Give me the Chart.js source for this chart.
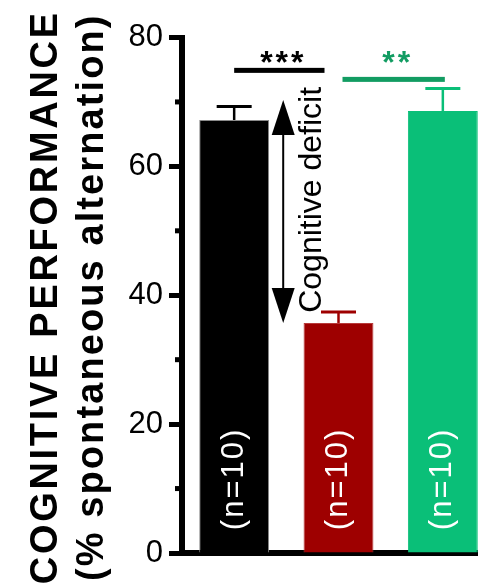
<!DOCTYPE html>
<html>
<head>
<meta charset="utf-8">
<script src="https://cdn.jsdelivr.net/npm/chart.js@4.4.1/dist/chart.umd.min.js"></script>
<style>
    html, body { margin: 0; padding: 0; background: #fff; overflow: hidden; }
    #wrap { width: 495px; height: 587px; }
</style>
</head>
<body>
<div id="wrap"><canvas id="chart" width="495" height="587"></canvas></div>
<script>
// values
const groups = ['Control', 'Deficit', 'Treated'];
const means = [67.2, 35.7, 68.6];
const sems = [2.1, 1.7, 3.5];
const nLabels = ['(n=10)', '(n=10)', '(n=10)'];
const yMajorTicks = [0, 20, 40, 60, 80];
const yMinorTicks = [10, 30, 50, 70];
const yTitle = ['COGNITIVE PERFORMANCE', '(% spontaneous alternation)'];
const stars = ['***', '**'];
const deficitLabel = 'Cognitive deficit';

const barColors = ['#000000', '#9e0000', '#0abf78'];
const edgeColors = ['#8a8a8a', '#b83a3a', '#0abf78'];
const starColors = ['#000000', '#129c62'];

const FONT = '"Liberation Sans", Arial, Helvetica, sans-serif';

// error bars, minor ticks, significance bars, arrow and labels
const deco = {
    id: 'deco',
    afterDatasetsDraw(chart) {
        const ctx = chart.ctx;
        const xs = chart.scales.x;
        const ys = chart.scales.y;
        const cx = (i) => xs.getPixelForValue(i);
        const py = (v) => ys.getPixelForValue(v);
        ctx.save();

        // error bars
        means.forEach((m, i) => {
            const x = cx(i), y0 = py(m), y1 = py(m + sems[i]);
            ctx.strokeStyle = barColors[i];
            ctx.lineWidth = 2.5;
            ctx.beginPath(); ctx.moveTo(x, y0); ctx.lineTo(x, y1); ctx.stroke();
            ctx.lineWidth = 3;
            ctx.beginPath(); ctx.moveTo(x - 17.5, y1); ctx.lineTo(x + 17.5, y1); ctx.stroke();
        });

        // minor ticks on the y axis
        ctx.fillStyle = '#000';
        yMinorTicks.forEach((v) => {
            ctx.fillRect(ys.right - 7, py(v) - 2.5, 6, 5);
        });

        // significance bars
        const sig = [
            { x1: cx(0), x2: cx(1) - 14, y: py(74.9) },
            { x1: cx(1) + 4, x2: cx(2) + 2, y: py(73.5) }
        ];
        sig.forEach((s, i) => {
            ctx.fillStyle = starColors[i];
            ctx.fillRect(s.x1, s.y - 2.5, s.x2 - s.x1, 5);
            ctx.font = `bold 32px ${FONT}`;
            ctx.letterSpacing = '3px';
            ctx.textAlign = 'center';
            ctx.textBaseline = 'alphabetic';
            const m = ctx.measureText(stars[i]);
            const yc = py(77);
            ctx.fillText(stars[i], (s.x1 + s.x2) / 2 + 4, yc + (m.actualBoundingBoxAscent - m.actualBoundingBoxDescent) / 2);
        });
        ctx.letterSpacing = '0px';

        // double arrow for the deficit
        const ax = cx(0) + 0.47 * (cx(1) - cx(0));
        const yTop = py(70.3), yBot = py(means[1]);
        const hl = 35, hw = 11.5;
        ctx.strokeStyle = '#000';
        ctx.fillStyle = '#000';
        ctx.lineWidth = 2;
        ctx.beginPath(); ctx.moveTo(ax, yTop + hl - 1); ctx.lineTo(ax, yBot - hl + 1); ctx.stroke();
        ctx.beginPath(); ctx.moveTo(ax, yTop); ctx.lineTo(ax + hw, yTop + hl); ctx.lineTo(ax - hw, yTop + hl); ctx.closePath(); ctx.fill();
        ctx.beginPath(); ctx.moveTo(ax, yBot); ctx.lineTo(ax + hw, yBot - hl); ctx.lineTo(ax - hw, yBot - hl); ctx.closePath(); ctx.fill();

        ctx.save();
        ctx.translate(ax + 38, py(54.8));
        ctx.rotate(-Math.PI / 2);
        ctx.font = `32px ${FONT}`;
        ctx.textAlign = 'center';
        ctx.textBaseline = 'alphabetic';
        ctx.fillText(deficitLabel, 0, 0);
        ctx.restore();

        // group sizes inside the bars
        nLabels.forEach((t, i) => {
            ctx.save();
            ctx.translate(cx(i), py(11.5));
            ctx.rotate(-Math.PI / 2);
            ctx.font = `31px ${FONT}`;
            ctx.letterSpacing = '2px';
            ctx.fillStyle = '#fff';
            ctx.textAlign = 'center';
            ctx.textBaseline = 'middle';
            ctx.fillText(t, 0, 0);
            ctx.restore();
        });

        ctx.restore();
    },
    afterDraw(chart) {
        // two-line rotated y title, slightly letter spaced like the original
        const ctx = chart.ctx;
        const area = chart.chartArea;
        const yc = (area.top + area.bottom) / 2 + 2;
        const base = [57, 103];
        const spacing = ['2.7px', '2.1px'];
        ctx.save();
        ctx.fillStyle = '#000';
        ctx.font = `bold 38px ${FONT}`;
        ctx.textAlign = 'center';
        ctx.textBaseline = 'alphabetic';
        yTitle.forEach((t, i) => {
            ctx.save();
            ctx.translate(base[i], yc);
            ctx.rotate(-Math.PI / 2);
            ctx.letterSpacing = spacing[i];
            ctx.fillText(t, 0, 0);
            ctx.restore();
        });
        ctx.restore();
    }
};

const chart = new Chart(document.getElementById('chart'), {
    type: 'bar',
    data: {
        labels: groups,
        datasets: [{
            data: means,
            backgroundColor: barColors,
            borderColor: edgeColors,
            borderWidth: 1,
            barPercentage: 0.67,
            categoryPercentage: 1
        }]
    },
    options: {
        responsive: false,
        animation: false,
        devicePixelRatio: 1,
        layout: { padding: { top: 37.5, left: 0, right: 0, bottom: 0 } },
        plugins: {
            legend: { display: false },
            tooltip: { enabled: false }
        },
        scales: {
            x: {
                grid: { display: false },
                ticks: { display: false },
                border: { display: true, color: '#000', width: 6 },
                afterFit: (s) => { s.height = 34; }
            },
            y: {
                min: 0,
                max: 80,
                afterBuildTicks: (s) => { s.ticks = yMajorTicks.map((v) => ({ value: v })); },
                ticks: {
                    color: '#000',
                    font: { family: FONT, size: 31 },
                    padding: 6
                },
                grid: {
                    drawOnChartArea: false,
                    drawTicks: true,
                    tickLength: 13,
                    tickWidth: 5,
                    tickColor: '#000'
                },
                border: { display: true, color: '#000', width: 6 },
                afterFit: (s) => { s.width = 182; }
            }
        }
    },
    plugins: [deco]
});
</script>
</body>
</html>
